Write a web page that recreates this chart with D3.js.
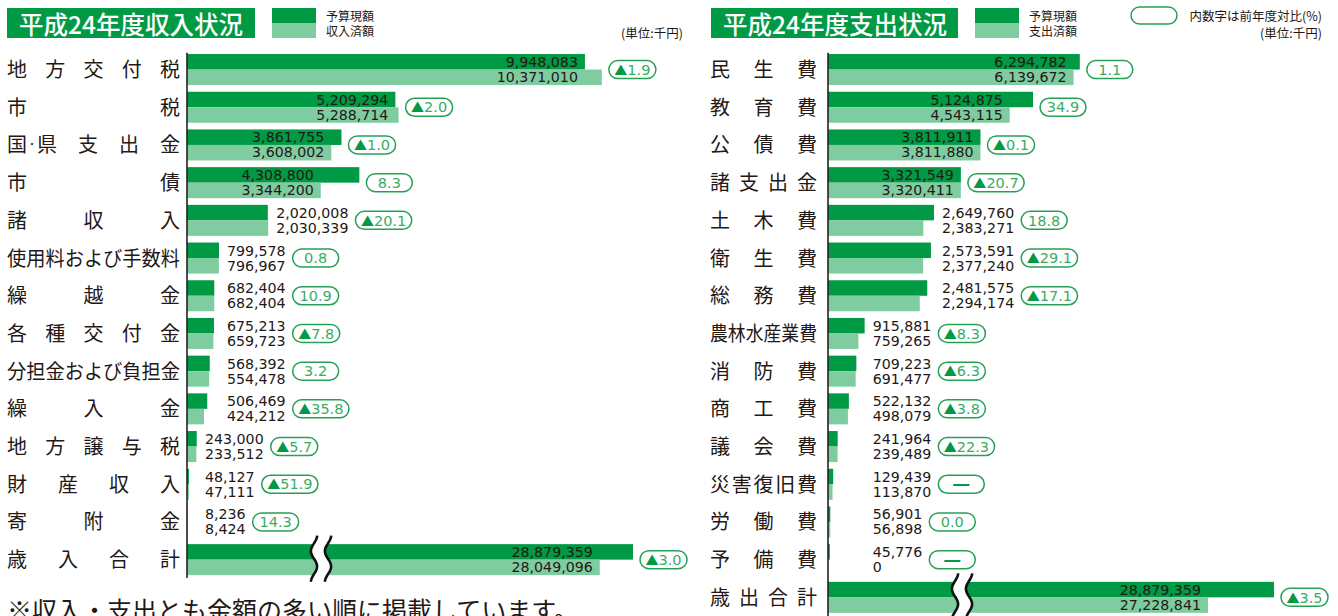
<!DOCTYPE html>
<html><head><meta charset="utf-8">
<script src="https://cdn.jsdelivr.net/npm/d3@7"></script>
<style>
html,body{margin:0;padding:0;background:#fff;}
svg{display:block;}
</style></head>
<body>
<script>
// ---------------- DATA ----------------
const incomeCategories = ["地方交付税","市税","国・県支出金","市債","諸収入","使用料および手数料","繰越金","各種交付金","分担金および負担金","繰入金","地方譲与税","財産収入","寄附金","歳入合計"];
const incomeBudget = [9948083,5209294,3861755,4308800,2020008,799578,682404,675213,568392,506469,243000,48127,8236,28879359];
const incomeActual = [10371010,5288714,3608002,3344200,2030339,796967,682404,659723,554478,424212,233512,47111,8424,28049096];
const incomeChange = [-1.9,-2.0,-1.0,8.3,-20.1,0.8,10.9,-7.8,3.2,-35.8,-5.7,-51.9,14.3,-3.0];

const expenseCategories = ["民生費","教育費","公債費","諸支出金","土木費","衛生費","総務費","農林水産業費","消防費","商工費","議会費","災害復旧費","労働費","予備費","歳出合計"];
const expenseBudget = [6294782,5124875,3811911,3321549,2649760,2573591,2481575,915881,709223,522132,241964,129439,56901,45776,28879359];
const expenseActual = [6139672,4543115,3811880,3320411,2383271,2377240,2294174,759265,691477,498079,239489,113870,56898,0,27228841];
const expenseChange = [1.1,34.9,-0.1,-20.7,18.8,-29.1,-17.1,-8.3,-6.3,-3.8,-22.3,null,0.0,null,-3.5];

const incomeTitle = "平成24年度収入状況";
const expenseTitle = "平成24年度支出状況";
const incomeLegend = ["予算現額","収入済額"];
const expenseLegend = ["予算現額","支出済額"];
const unitText = "(単位:千円)";
const ratioNote = "内数字は前年度対比(%)";
const footNote = "※収入・支出とも金額の多い順に掲載しています。";

// groups of rows whose outside number labels share one column (first category of each group)
const incomeColumnStarts = ["諸収入","使用料および手数料","地方譲与税"];
const expenseColumnStarts = ["土木費","農林水産業費"];

// ---------------- STYLE ----------------
const DARK = "#009944", LIGHT = "#80cca1", TXT = "#231815";
const BADGE_STROKE = "#25a055", BADGE_TXT = "#3aab63";
const CJK = "'Noto Sans CJK JP','Noto Sans CJK SC',sans-serif";
const NUM = "'DejaVu Sans',sans-serif";
const PX_PER_UNIT = 400;      // pixels for 10,000,000
const BREAK_SHIFT = 17730000; // value hidden by the axis break on total rows
const BREAK_AT = 3350000;     // where the break marks sit
const INSIDE_MIN = 3000000;   // bars long enough to carry their numbers inside

const svg = d3.select("body").append("svg").attr("width",1338).attr("height",616)
  .style("font-family", CJK);

function justifyLabel(g, label, left, right, cy, fs) {
  const chars = Array.from(label);
  const units = [];
  for (let i = 0; i < chars.length; i++) {
    if (chars[i] === "・" && units.length && i + 1 < chars.length) {
      units[units.length - 1].push("・", chars[i + 1]); i++;
    } else units.push([chars[i]]);
  }
  const avail = right - left;
  const built = units.map(u => {
    let off = 0;
    const parts = u.map(ch => {
      const size = ch === "・" ? fs * 0.5 : fs;
      const t = g.append("text").attr("y", cy).attr("dominant-baseline","central")
        .attr("font-size", size).attr("fill", TXT).text(ch);
      const w = t.node().getComputedTextLength();
      const p = { t, off }; off += w; return p;
    });
    return { parts, w: off };
  });
  const total = d3.sum(built, b => b.w);
  if (total > avail) {
    built.forEach(b => b.parts.forEach(p => p.t.remove()));
    g.append("text").attr("x", left).attr("y", cy).attr("dominant-baseline","central")
      .attr("font-size", fs).attr("fill", TXT)
      .attr("textLength", avail).attr("lengthAdjust","spacingAndGlyphs").text(label);
    return;
  }
  const gap = built.length > 1 ? (avail - total) / (built.length - 1) : 0;
  let x = left;
  built.forEach(b => { b.parts.forEach(p => p.t.attr("x", x + p.off)); x += b.w + gap; });
}

function drawBadge(g, x0, cy, change) {
  const t = g.append("text").attr("y", cy + 5.2).attr("text-anchor","middle")
    .attr("font-family", NUM).attr("font-size", 14.5).attr("fill", BADGE_TXT);
  if (change === null) {
    t.attr("font-family", CJK).attr("font-size", 16).attr("font-weight", 700).attr("fill", DARK).attr("y", cy)
      .attr("dominant-baseline","central").text("━");
  } else if (change < 0) {
    t.append("tspan").attr("fill", DARK).attr("font-family", CJK).attr("font-size", 13).text("▲");
    t.append("tspan").text(Math.abs(change).toFixed(1));
  } else {
    t.text(change.toFixed(1));
  }
  const tw = t.node().getBBox().width;
  const w = Math.max(46, tw + 11);
  g.insert("rect", () => t.node()).attr("x", x0).attr("y", cy - 9).attr("width", w).attr("height", 18)
    .attr("rx", 9).attr("fill","#fff").attr("stroke", BADGE_STROKE).attr("stroke-width", 1.5);
  t.attr("x", x0 + w / 2);
}

function drawPanel(cfg) {
  const g = svg.append("g");
  const n = cfg.cats.length;
  const y = d3.scaleBand().domain(cfg.cats).range([cfg.top, cfg.top + n * cfg.step]).padding(0);
  const x = d3.scaleLinear().domain([0, 10000000]).range([cfg.axisX, cfg.axisX + PX_PER_UNIT]);
  const xTot = d3.scaleLinear().domain([BREAK_SHIFT, BREAK_SHIFT + 10000000]).range([cfg.axisX, cfg.axisX + PX_PER_UNIT]);
  const half = 15.5;

  // title
  g.append("rect").attr("x", cfg.titleX).attr("y", 8).attr("width", cfg.titleW).attr("height", 30).attr("fill", DARK);
  g.append("text").attr("x", cfg.titleX + 12).attr("y", 23.5).attr("dominant-baseline","central")
    .attr("font-size", 24.5).attr("font-weight", 500).attr("fill","#fff").text(cfg.title);
  // legend swatch
  g.append("rect").attr("x", cfg.legendX).attr("y", 8).attr("width", 44).attr("height", 15).attr("fill", DARK);
  g.append("rect").attr("x", cfg.legendX).attr("y", 23).attr("width", 44).attr("height", 15).attr("fill", LIGHT);
  cfg.legend.forEach((s, i) => g.append("text").attr("x", cfg.legendX + 54).attr("y", 15 + i * 15)
    .attr("dominant-baseline","central").attr("font-size", 12).attr("fill", TXT).text(s));
  g.append("text").attr("x", cfg.unitRight).attr("y", 32.5).attr("dominant-baseline","central")
    .attr("text-anchor","end").attr("font-size", 12.5).attr("fill", TXT).text(unitText);

  const rows = cfg.cats.map((c, i) => {
    const isTotal = i === n - 1;
    const sc = isTotal ? xTot : x;
    return { c, i, isTotal, b: cfg.budget[i], a: cfg.actual[i], ch: cfg.change[i],
      cy: y(c) + y.bandwidth() / 2, eb: sc(cfg.budget[i]), ea: Math.max(cfg.axisX, sc(cfg.actual[i])),
      inside: isTotal || Math.min(cfg.budget[i], cfg.actual[i]) >= INSIDE_MIN };
  });

  // bars
  rows.forEach(r => {
    g.append("rect").attr("x", cfg.axisX).attr("y", r.cy - half).attr("width", r.eb - cfg.axisX)
      .attr("height", half).attr("fill", DARK);
    g.append("rect").attr("x", cfg.axisX).attr("y", r.cy).attr("width", r.ea - cfg.axisX)
      .attr("height", half).attr("fill", LIGHT);
  });

  // axis break on total row
  const tr = rows[n - 1];
  const bx = x(BREAK_AT);
  const top = tr.cy - 24, bot = tr.cy + 22;
  const wave = (c) => d3.range(0, 1.0001, 0.05).map(t => [c + 3.2 * Math.cos(2 * Math.PI * t / 0.67), top + t * (bot - top)]);
  const w1 = wave(bx - 7), w2 = wave(bx + 7);
  g.append("path").attr("d", d3.line().curve(d3.curveBasis)(w1.concat(w2.slice().reverse()))).attr("fill","#fff");
  [w1, w2].forEach(w => g.append("path").attr("d", d3.line().curve(d3.curveBasis)(w))
    .attr("fill","none").attr("stroke","#111").attr("stroke-width", 2.6));

  // axis line
  g.append("line").attr("x1", cfg.axisX).attr("x2", cfg.axisX).attr("y1", cfg.top + 2).attr("y2", cfg.axisBottom)
    .attr("stroke", "#222").attr("stroke-width", 1.6);

  // labels
  rows.forEach(r => justifyLabel(g, r.c, cfg.labelL, cfg.labelR, r.cy - 1, 20));

  // outside number columns
  let col = null; const colOf = {};
  const groups = [];
  rows.forEach(r => {
    if (r.inside) { col = null; return; }
    if (cfg.columnStarts.includes(r.c) || col === null) { col = []; groups.push(col); }
    col.push(r);
  });
  groups.forEach(gr => {
    const cx = Math.max(cfg.axisX + 18, d3.max(gr, r => Math.max(r.eb, r.ea) + 8));
    gr.forEach(r => colOf[r.c] = cx);
  });

  const fmt = d3.format(",");
  rows.forEach(r => {
    let badgeX;
    if (r.inside) {
      const tx = Math.min(r.eb, r.ea) - 7;
      [[r.b, -2.5], [r.a, 12.5]].forEach(([v, dy]) => g.append("text").attr("x", tx).attr("y", r.cy + dy)
        .attr("text-anchor","end").attr("font-family", NUM).attr("font-size", 14.2).attr("fill", TXT).text(fmt(v)));
      badgeX = Math.max(r.eb, r.ea) + 7;
    } else {
      const tx = colOf[r.c];
      const ends = [[r.b, -2.5], [r.a, 12.5]].map(([v, dy]) => {
        const t = g.append("text").attr("x", tx).attr("y", r.cy + dy)
          .attr("font-family", NUM).attr("font-size", 14.2).attr("fill", TXT).text(fmt(v));
        return tx + t.node().getComputedTextLength();
      });
      badgeX = d3.max(ends) + 7;
    }
    drawBadge(g, badgeX, r.cy, r.ch);
  });
  return g;
}

drawPanel({ cats: incomeCategories, budget: incomeBudget, actual: incomeActual, change: incomeChange,
  axisX: 187, labelL: 7, labelR: 180, top: 50.7, step: 37.7, axisBottom: 578,
  title: incomeTitle, titleX: 7, titleW: 248, legendX: 272, legend: incomeLegend, unitRight: 683,
  columnStarts: incomeColumnStarts });

drawPanel({ cats: expenseCategories, budget: expenseBudget, actual: expenseActual, change: expenseChange,
  axisX: 828, labelL: 710, labelR: 817, top: 50.7, step: 37.7, axisBottom: 616,
  title: expenseTitle, titleX: 711, titleW: 247, legendX: 975, legend: expenseLegend, unitRight: 1322,
  columnStarts: expenseColumnStarts });

// ratio legend
svg.append("rect").attr("x", 1131).attr("y", 7).attr("width", 46).attr("height", 17).attr("rx", 8.5)
  .attr("fill","#fff").attr("stroke", BADGE_STROKE).attr("stroke-width", 1.5);
svg.append("text").attr("x", 1322).attr("y", 15).attr("dominant-baseline","central").attr("text-anchor","end")
  .attr("font-size", 12.5).attr("fill", TXT).text(ratioNote);

// foot note
svg.append("text").attr("x", 7).attr("y", 620).attr("font-size", 25).attr("fill", TXT).text(footNote);
</script>
</body></html>
